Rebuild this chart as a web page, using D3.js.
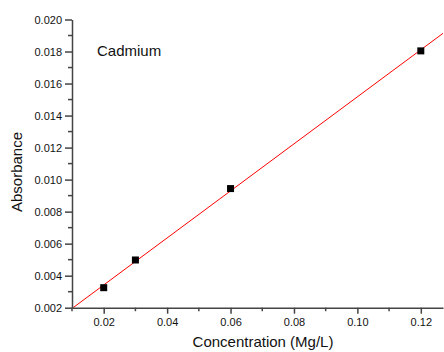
<!DOCTYPE html>
<html><head><meta charset="utf-8">
<script src="https://cdn.jsdelivr.net/npm/d3@7"></script>
<style>body{margin:0;background:#fff}svg{display:block}text{font-family:"Liberation Sans",Arial,sans-serif;fill:#111}</style>
</head><body><div id="chart"></div>
<script>
const concentration = [0.02, 0.03, 0.06, 0.12];
const absorbance = [0.00325, 0.00498, 0.00944, 0.01804];
const xTickValues = [0.02, 0.04, 0.06, 0.08, 0.10, 0.12];
const yTickValues = [0.002, 0.004, 0.006, 0.008, 0.010, 0.012, 0.014, 0.016, 0.018, 0.020];
const xDomain = [0.01, 0.127];
const yDomain = [0.002, 0.020];
const seriesLabel = "Cadmium";
const xTitle = "Concentration (Mg/L)";
const yTitle = "Absorbance";

const W = 444, H = 352;
const svg = d3.select("#chart").append("svg").attr("width", W).attr("height", H);
const x = d3.scaleLinear().domain(xDomain).range([72, 443]);
const y = d3.scaleLinear().domain(yDomain).range([307.7, 19.5]);

// least squares fit
const n = concentration.length;
const mx = d3.mean(concentration), my = d3.mean(absorbance);
let sxx = 0, sxy = 0;
for (let i = 0; i < n; i++) { sxx += (concentration[i]-mx)**2; sxy += (concentration[i]-mx)*(absorbance[i]-my); }
const slope = sxy / sxx, intercept = my - slope * mx;

svg.append("clipPath").attr("id","clip").append("rect")
  .attr("x", 72).attr("y", 0).attr("width", 372).attr("height", 307.7);

svg.append("line").attr("clip-path","url(#clip)")
  .attr("x1", x(xDomain[0])).attr("y1", y(slope*xDomain[0]+intercept))
  .attr("x2", x(xDomain[1])).attr("y2", y(slope*xDomain[1]+intercept))
  .attr("stroke", "#ff0000").attr("stroke-width", 1);

// axes
const fmtX = d3.format(".2f"), fmtY = d3.format(".3f");
const xMinor = d3.range(0.01, 0.1271, 0.01).map(v => +v.toFixed(3)).filter(v => !xTickValues.some(t => Math.abs(t-v)<1e-9));
const yMinor = d3.range(0.003, 0.0201, 0.002).map(v => +v.toFixed(4));

const xg = svg.append("g").attr("transform", `translate(0,${y(yDomain[0])})`);
xg.call(d3.axisBottom(x).tickValues(xTickValues).tickFormat(fmtX).tickSize(6).tickSizeOuter(0).tickPadding(5));
xg.append("g").selectAll("line").data(xMinor).join("line")
  .attr("x1", d => x(d)).attr("x2", d => x(d)).attr("y1", 0).attr("y2", 3.5);
const yg = svg.append("g").attr("transform", `translate(${x(xDomain[0])},0)`);
yg.call(d3.axisLeft(y).tickValues(yTickValues).tickFormat(fmtY).tickSize(7).tickSizeOuter(0).tickPadding(3));
yg.append("g").selectAll("line").data(yMinor).join("line")
  .attr("x1", 0).attr("x2", -4).attr("y1", d => y(d)).attr("y2", d => y(d));

svg.selectAll(".domain, .tick line, g g line").attr("stroke", "#444").attr("stroke-width", 1.5);
svg.selectAll(".tick text").attr("font-size", "11px").attr("fill", "#111")
  .attr("font-family", '"Liberation Sans",Arial,sans-serif');

// points
svg.append("g").selectAll("rect").data(concentration).join("rect")
  .attr("x", (d) => x(d) - 3.5).attr("y", (d, i) => y(absorbance[i]) - 3.5)
  .attr("width", 7).attr("height", 7).attr("fill", "#000");

svg.append("text").attr("x", 97).attr("y", 55.5).attr("font-size", "15px").text(seriesLabel);
svg.append("text").attr("x", 263).attr("y", 347).attr("text-anchor", "middle").attr("font-size", "15px").text(xTitle);
svg.append("text").attr("transform", "translate(22,172) rotate(-90)").attr("text-anchor", "middle").attr("font-size", "15px").text(yTitle);
</script></body></html>
